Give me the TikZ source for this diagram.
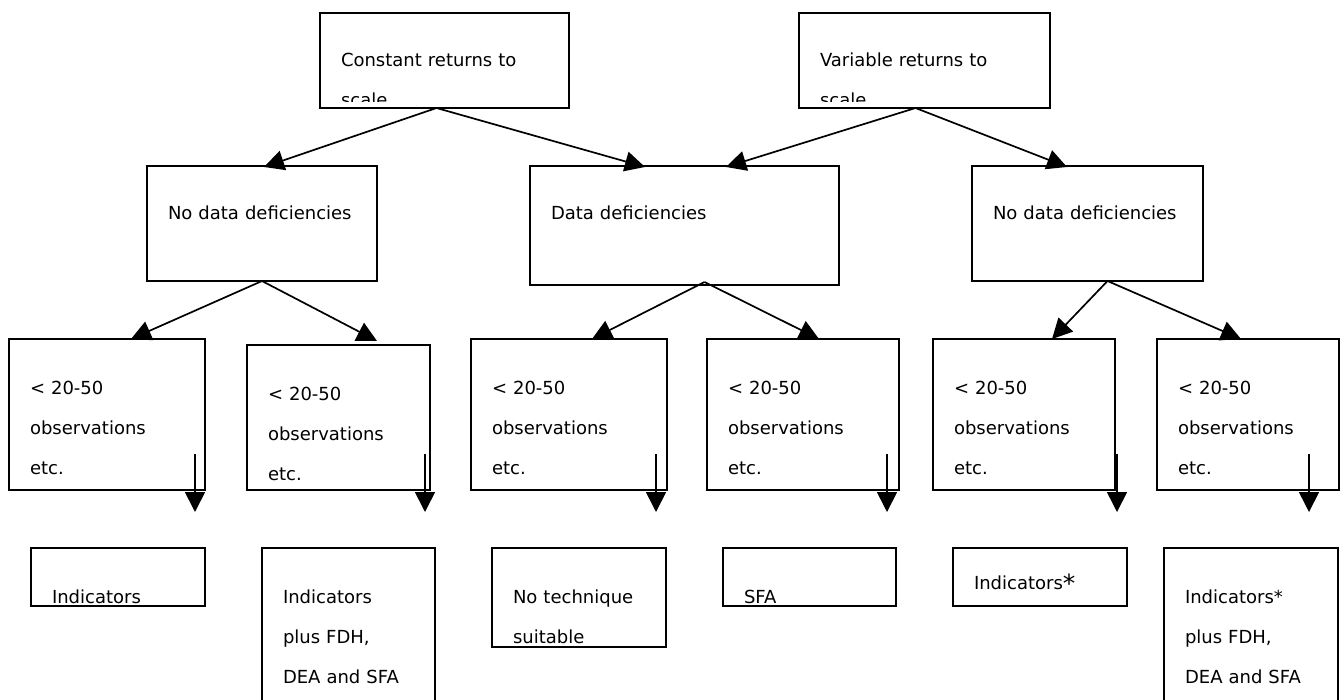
\documentclass[tikz,border=0pt]{standalone}
\usepackage{fontspec}
\setmainfont{DejaVu Sans}
\usetikzlibrary{arrows.meta, positioning, calc}

\newcommand{\diagfont}{\fontsize{18pt}{40pt}\selectfont}

\begin{document}
\begin{tikzpicture}[
    x=1pt, y=-1pt, % pixel grid, y runs downwards
    >={Triangle[length=20pt, width=20pt]},
    box/.style n args={3}{rectangle, draw, line width=1.8pt, fill=white, anchor=north west,
        inner xsep=21pt, inner ysep=0pt, outer sep=0pt, align=left,
        text width=#1, text height=#2, text depth=#3, font=\diagfont},
    toptext/.style={box={#1}{54pt}{41pt}, draw=none, fill=none},
    frame/.style={draw, line width=1.8pt},
    line/.style={draw, ->, line width=1.7pt}
]
    \useasboundingbox[fill=white] (0,0) rectangle (1340,700);

    % Top level: returns to scale (second line cut off by the box margin)
    \begin{scope}
        \clip (0,0) rectangle (1340,102);
        \node[toptext={207pt}] (crs) at (320,13) {Constant returns to\\scale};
        \node[toptext={209pt}] (vrs) at (799,13) {Variable returns to\\scale};
    \end{scope}
    \path[frame] (crs.north west) rectangle (crs.south east);
    \path[frame] (vrs.north west) rectangle (vrs.south east);

    % Second level: data quality
    \node[box={188pt}{54pt}{61pt}] (ndd1) at (147,166) {No data deficiencies};
    \node[box={267pt}{54pt}{65pt}] (dd) at (530,166) {Data deficiencies};
    \node[box={189pt}{54pt}{61pt}] (ndd2) at (972,166) {No data deficiencies};

    % Third level: number of observations
    \node[box={154pt}{55pt}{96pt}] (obs1) at (9,339) {< 20-50\\observations\\etc.};
    \node[box={141pt}{55pt}{90pt}] (obs2) at (247,345) {< 20-50\\observations\\etc.};
    \node[box={154pt}{55pt}{96pt}] (obs3) at (471,339) {< 20-50\\observations\\etc.};
    \node[box={150pt}{55pt}{96pt}] (obs4) at (707,339) {< 20-50\\observations\\etc.};
    \node[box={140pt}{55pt}{96pt}] (obs5) at (933,339) {< 20-50\\observations\\etc.};
    \node[box={140pt}{55pt}{96pt}] (obs6) at (1157,339) {< 20-50\\observations\\etc.};

    % Bottom level: suitable techniques, each below its observation box
    \node[box={132pt}{55pt}{3pt}, below right=58pt and 22pt of obs1.south west] (res1) {Indicators};
    \node[box={131pt}{55pt}{115pt}, below right=58pt and 15pt of obs2.south west] (res2) {Indicators\\plus FDH,\\DEA and SFA};
    \node[box={132pt}{55pt}{44pt}, below right=58pt and 21pt of obs3.south west] (res3) {No technique\\suitable};
    \node[box={131pt}{55pt}{3pt}, below right=58pt and 16pt of obs4.south west] (res4) {SFA};
    \node[box={132pt}{41pt}{17pt}, below right=58pt and 20pt of obs5.south west] (res5)
        {Indicators\raisebox{-3pt}{\fontsize{25pt}{25pt}\selectfont *}};
    \node[box={132pt}{55pt}{115pt}, below right=58pt and 7pt of obs6.south west] (res6) {Indicators*\\plus FDH,\\DEA and SFA};

    % Arrows from the top level
    \path[line] ([xshift=-8pt]crs.south) -- ($(ndd1.north west)+(117,1)$);
    \path[line] ([xshift=-8pt]crs.south) -- ($(dd.north west)+(115,1)$);
    \path[line] ([xshift=-9pt]vrs.south) -- ($(dd.north west)+(196,1)$);
    \path[line] ([xshift=-9pt]vrs.south) -- ($(ndd2.north west)+(95,1)$);

    % Arrows from the second level
    \path[line] (ndd1.south) -- ($(obs1.north west)+(122,0)$);
    \path[line] (ndd1.south) -- ($(obs2.north west)+(130,-4)$);
    \path[line] ($(dd.south)+(20,-3)$) -- ($(obs3.north west)+(121,0)$);
    \path[line] ($(dd.south)+(20,-3)$) -- ($(obs4.north west)+(112,0)$);
    \path[line] ([xshift=20pt]ndd2.south) -- ($(obs5.north west)+(119,0)$);
    \path[line] ([xshift=20pt]ndd2.south) -- ($(obs6.north west)+(84,0)$);

    % Short arrows down to the techniques
    \path[line] ($(obs1.south east)+(-10,-36)$) -- ++(0,58);
    \path[line] ($(obs2.south east)+(-5,-36)$) -- ++(0,58);
    \path[line] ($(obs3.south east)+(-11,-36)$) -- ++(0,58);
    \path[line] ($(obs4.south east)+(-12,-36)$) -- ++(0,58);
    \path[line] ($(obs5.south east)+(2,-36)$) -- ++(0,58);
    \path[line] ($(obs6.south east)+(-30,-36)$) -- ++(0,58);

\end{tikzpicture}
\end{document}
